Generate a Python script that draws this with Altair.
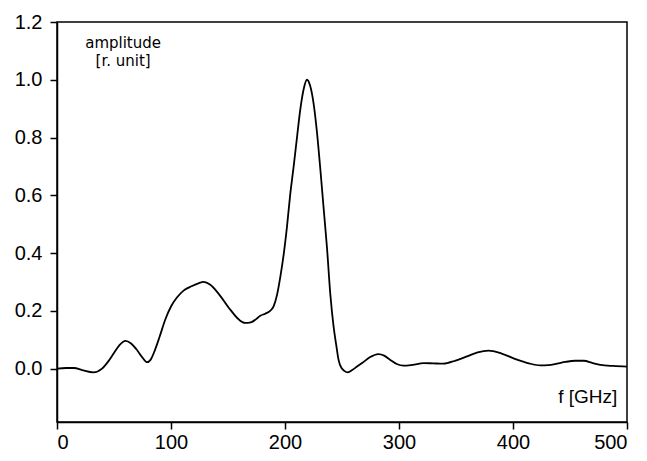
import altair as alt
import pandas as pd

freq = [0, 8, 15, 22, 32, 39.5, 45, 50, 55, 60, 65, 70, 75, 79, 82, 86, 90, 95,
        100, 105, 111, 118, 124, 128.6, 134.5, 142, 152, 160, 165, 170, 175,
        178.3, 182.7, 187, 190, 193, 196, 199, 201.7, 204.5, 207.6, 210.5,
        213.4, 216.5, 219.3, 222, 225, 228, 231, 234, 236.8, 239.7, 242.6,
        245, 247, 248.5, 252, 255.2, 259, 263.2, 268, 274, 282, 287, 292.4,
        298, 304, 312, 321.6, 330, 339, 349, 359.6, 369, 378.6, 390, 403.5,
        414, 424, 431, 438.6, 446, 454.6, 462, 470, 476.6, 488, 500]
amplitude = [0.0, 0.002, 0.002, -0.005, -0.013, 0.0, 0.025, 0.054, 0.082, 0.096,
             0.087, 0.065, 0.038, 0.022, 0.03, 0.065, 0.11, 0.17, 0.215, 0.245,
             0.27, 0.285, 0.295, 0.3, 0.29, 0.258, 0.204, 0.168, 0.158, 0.16,
             0.172, 0.183, 0.19, 0.2, 0.215, 0.255, 0.32, 0.4, 0.49, 0.6, 0.70,
             0.8, 0.897, 0.97, 1.0, 0.98, 0.92, 0.82, 0.69, 0.55, 0.42, 0.26,
             0.146, 0.08, 0.03, 0.01, -0.008, -0.013, -0.005, 0.007, 0.02,
             0.038, 0.05, 0.045, 0.03, 0.016, 0.01, 0.013, 0.019, 0.018, 0.017,
             0.027, 0.042, 0.056, 0.062, 0.052, 0.031, 0.018, 0.011, 0.012,
             0.017, 0.023, 0.027, 0.027, 0.019, 0.013, 0.009, 0.007]

x_ticks = [0, 100, 200, 300, 400, 500]
y_ticks = [0.0, 0.2, 0.4, 0.6, 0.8, 1.0, 1.2]

labels_text = ["amplitude", "[r. unit]"]
labels_f = [58, 58]
labels_a = [1.128, 1.064]

df = pd.DataFrame({"f": freq, "a": amplitude})
lab = pd.DataFrame({"t": labels_text, "f": labels_f, "a": labels_a})
xlab = pd.DataFrame({"t": ["f [GHz]"], "f": [491.5], "a": [-0.10]})

xs = alt.Scale(domain=[0, 500], nice=False, zero=False)
ys = alt.Scale(domain=[-0.185, 1.2], nice=False, zero=False)

line = alt.Chart(df).mark_line(color="black", strokeWidth=1.8, interpolate="monotone").encode(
    x=alt.X("f:Q", scale=xs,
            axis=alt.Axis(values=x_ticks, title=None, grid=False, format="d",
                          labelFontSize=20, labelPadding=3)),
    y=alt.Y("a:Q", scale=ys,
            axis=alt.Axis(values=y_ticks, title=None, grid=False, format=".1f",
                          labelFontSize=20, labelPadding=8)),
)

ann = alt.Chart(lab).mark_text(font="DejaVu Sans", fontSize=15, color="black",
                               align="center", baseline="middle").encode(
    x=alt.X("f:Q", scale=xs), y=alt.Y("a:Q", scale=ys), text="t:N")

xann = alt.Chart(xlab).mark_text(font="Liberation Sans", fontSize=19, color="black",
                                 align="right", baseline="middle").encode(
    x=alt.X("f:Q", scale=xs), y=alt.Y("a:Q", scale=ys), text="t:N")

chart = alt.layer(line, ann, xann).properties(
    width=570, height=400,
    autosize=alt.AutoSizeParams(type="none"),
    padding={"left": 49, "top": 14, "right": 12, "bottom": 31},
).configure_view(stroke="black", strokeWidth=1.5).configure_axis(
    domainColor="black", domainWidth=1.5, tickColor="black", tickWidth=1.5,
    tickSize=7, labelColor="black", labelFont="Liberation Sans",
)

chart.save("out.html", embed_options={"renderer": "svg", "actions": False})
